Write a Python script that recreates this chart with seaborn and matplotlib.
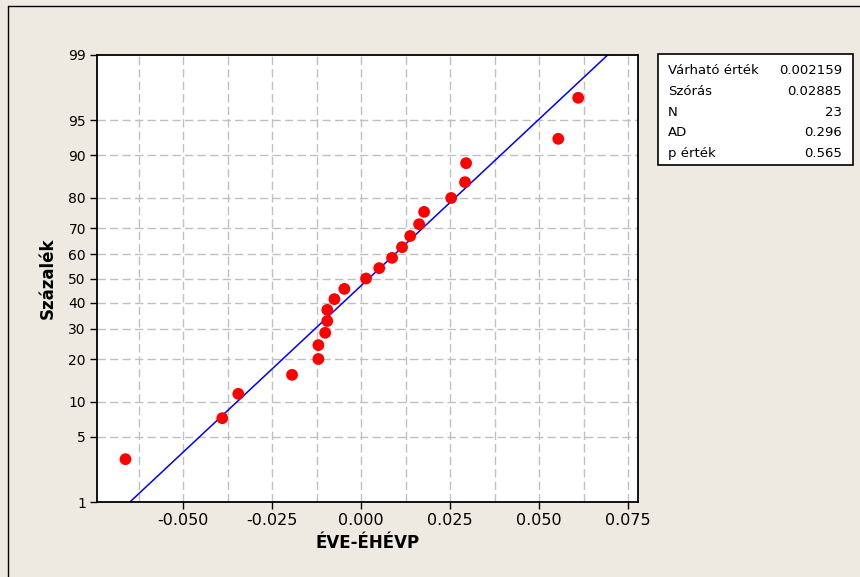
from statistics import NormalDist
import numpy as np
import pandas as pd
import matplotlib
matplotlib.use('Agg')
import matplotlib.pyplot as plt
import seaborn as sns

# values
eve_ehevp = [-0.0662, -0.0390, -0.0345, -0.0194, -0.0120, -0.0120, -0.0101, -0.0095,
             -0.0095, -0.0075, -0.0047, 0.0014, 0.0051, 0.0087, 0.0115, 0.0138,
             0.0163, 0.0177, 0.0253, 0.0292, 0.0295, 0.0554, 0.0610]
percent = [3.0, 7.3, 11.5, 15.8, 20.1, 24.4, 28.6, 32.9, 37.2, 41.5, 45.7, 50.0,
           54.3, 58.5, 62.8, 67.1, 71.4, 75.6, 79.9, 84.2, 88.5, 92.7, 97.0]
y_ticks = [1, 5, 10, 20, 30, 40, 50, 60, 70, 80, 90, 95, 99]
x_ticks = [-0.050, -0.025, 0.000, 0.025, 0.050, 0.075]
stat_names = ['Várható érték', 'Szórás', 'N', 'AD', 'p érték']
stat_values = ['0.002159', '0.02885', '23', '0.296', '0.565']
mean, sd = 0.002159, 0.02885

nd = NormalDist()
_fwd = np.vectorize(lambda p: nd.inv_cdf(min(max(p, 1e-6), 100 - 1e-6) / 100.0), otypes=[float])
_inv = np.vectorize(lambda z: nd.cdf(z) * 100.0, otypes=[float])

bg = '#EEEAE1'
df = pd.DataFrame({'x': eve_ehevp, 'p': percent})

sns.set_theme(style='white')
plt.rcParams['font.family'] = ['DejaVu Sans']
plt.rcParams['text.color'] = 'black'
plt.rcParams['axes.labelcolor'] = 'black'
plt.rcParams['xtick.color'] = 'black'
plt.rcParams['ytick.color'] = 'black'
fig = plt.figure(figsize=(8.6, 5.77), dpi=100, facecolor=bg)
ax = fig.add_axes([97 / 860, 1 - 502 / 577, (638 - 97) / 860, (502 - 55) / 577])
ax.set_yscale('function', functions=(_fwd, _inv))
ax.set_ylim(1, 99)
ax.set_xlim(-0.0742, 0.0778)

# fitted normal line
fit_p = np.array([1.0, 99.0])
fit_x = mean + sd * _fwd(fit_p)
sns.lineplot(x=fit_x, y=fit_p, color='#0000FF', lw=1.1, ax=ax)
sns.scatterplot(data=df, x='x', y='p', color='#FF0000', s=72, edgecolor='none', ax=ax, zorder=3)

# grid
gcol = '#C0C0C0'
for gx in np.arange(-0.0625, 0.076, 0.0125):
    ax.axvline(gx, color=gcol, ls=(0, (6, 3)), lw=1, zorder=0)
for gy in y_ticks[1:-1]:
    ax.axhline(gy, color=gcol, ls=(0, (6, 3)), lw=1, zorder=0)

ax.set_yticks(y_ticks)
ax.set_yticklabels([str(t) for t in y_ticks], fontsize=10)
ax.yaxis.set_minor_locator(matplotlib.ticker.NullLocator())
ax.set_xticks(x_ticks)
ax.set_xticklabels(['%.3f' % t for t in x_ticks], fontsize=11.5)
ax.tick_params(axis='both', length=5, width=1, colors='black', direction='out', left=True, bottom=True, pad=3)
for side in ['top', 'right']:
    ax.spines[side].set_visible(True)
for sp in ax.spines.values():
    sp.set_color('black')
    sp.set_linewidth(1.3)
ax.set_facecolor('white')
ax.set_xlabel('ÉVE-ÉHÉVP', fontsize=12, fontweight='bold', labelpad=4)
ax.set_ylabel('Százalék', fontsize=12, fontweight='bold', labelpad=8)

# statistics box
bx0, by0, bx1, by1 = 658 / 860, 1 - 165 / 577, 853 / 860, 1 - 54 / 577
fig.patches.append(plt.Rectangle((bx0, by0), bx1 - bx0, by1 - by0, transform=fig.transFigure,
                                 facecolor='white', edgecolor='black', lw=1.2))
for i, (n, v) in enumerate(zip(stat_names, stat_values)):
    yy = 1 - (71 + i * 20.6) / 577
    fig.text(668 / 860, yy, n, fontsize=9.5, va='center', ha='left')
    fig.text(842 / 860, yy, v, fontsize=9.5, va='center', ha='right')

# left/top frame lines of the window
fig.add_artist(plt.Line2D([8 / 860, 8 / 860], [0, 1 - 6 / 577], transform=fig.transFigure, color='black', lw=1))
fig.add_artist(plt.Line2D([8 / 860, 1], [1 - 6 / 577, 1 - 6 / 577], transform=fig.transFigure, color='black', lw=1))

fig.savefig('out.png', dpi=100, facecolor=bg)
